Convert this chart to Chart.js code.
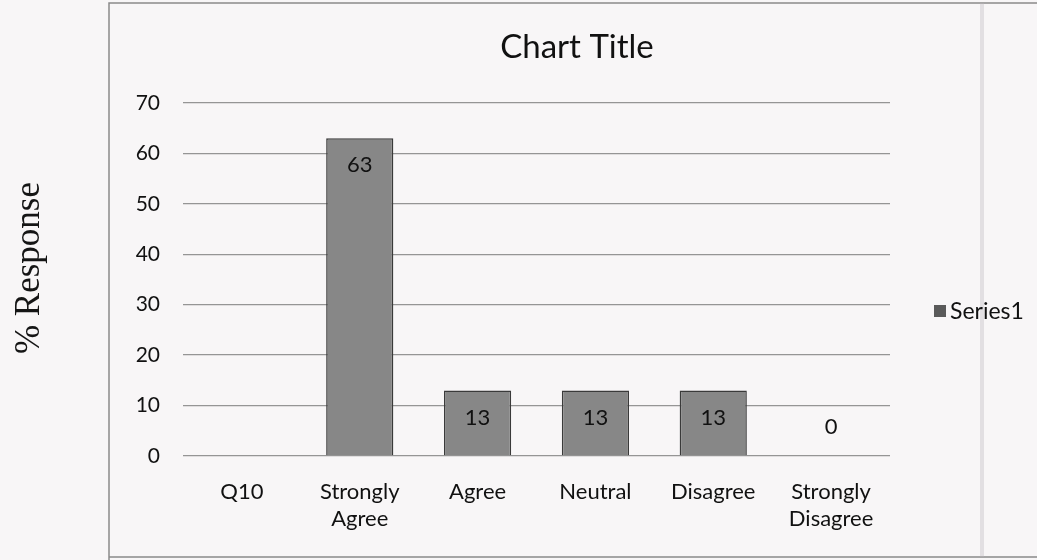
<!DOCTYPE html>
<html>
<head>
<meta charset="utf-8">
<script src="https://cdn.jsdelivr.net/npm/chart.js@4/dist/chart.umd.min.js"></script>
<style>
html,body{margin:0;padding:0;background:#f8f6f7;}
#wrap{width:1037px;height:560px;position:relative;}
</style>
</head>
<body>
<div id="wrap"><canvas id="c" width="1037" height="560"></canvas></div>
<script>
const categories = ["Q10", ["Strongly", "Agree"], "Agree", "Neutral", "Disagree", ["Strongly", "Disagree"]];
const series1 = [null, 63, 13, 13, 13, 0];
const seriesName = "Series1";
const chartTitle = "Chart Title";
const yAxisTitle = "% Response";
const yTicks = [0, 10, 20, 30, 40, 50, 60, 70];

const sansFont = "Lato, 'Open Sans', sans-serif";

const decor = {
  id: 'decor',
  beforeDraw(chart) {
    const ctx = chart.ctx;
    ctx.save();
    ctx.fillStyle = '#f8f6f7';
    ctx.fillRect(0, 0, chart.width, chart.height);
    // frame
    ctx.strokeStyle = '#8a8a8a';
    ctx.lineWidth = 1.5;
    ctx.beginPath();
    ctx.moveTo(109, 560);
    ctx.lineTo(109, 3);
    ctx.lineTo(1037, 3);
    ctx.stroke();
    ctx.beginPath();
    ctx.moveTo(109, 557);
    ctx.lineTo(1037, 557);
    ctx.stroke();
    // scan fold
    ctx.strokeStyle = 'rgba(185,180,185,0.35)';
    ctx.lineWidth = 4;
    ctx.beginPath();
    ctx.moveTo(982, 3);
    ctx.lineTo(982, 557);
    ctx.stroke();
    ctx.restore();
  },
  afterDraw(chart) {
    const ctx = chart.ctx;
    ctx.save();
    // title
    ctx.fillStyle = '#111';
    ctx.font = "33px " + sansFont;
    ctx.textAlign = 'center';
    ctx.textBaseline = 'middle';
    ctx.fillText(chartTitle, 577, 47);
    // y axis title
    ctx.save();
    ctx.translate(30, 268);
    ctx.rotate(-Math.PI / 2);
    ctx.font = "35px 'Liberation Serif', 'DejaVu Serif', serif";
    ctx.fillStyle = '#151515';
    ctx.fillText(yAxisTitle, 0, 0);
    ctx.restore();
    // legend
    ctx.fillStyle = '#5a5a5a';
    ctx.fillRect(934, 305, 12, 12);
    ctx.fillStyle = '#111';
    ctx.font = "23px " + sansFont;
    ctx.textAlign = 'left';
    ctx.fillText(seriesName, 950, 312);
    // data labels
    const meta = chart.getDatasetMeta(0);
    ctx.font = "22px " + sansFont;
    ctx.textAlign = 'center';
    meta.data.forEach((bar, i) => {
      const v = series1[i];
      if (v === null || v === undefined) return;
      const y = v > 0 ? bar.y + 27 : bar.y - 29;
      ctx.fillStyle = '#111';
      ctx.fillText(String(v), bar.x, y);
    });
    ctx.restore();
  }
};

new Chart(document.getElementById('c'), {
  type: 'bar',
  data: {
    labels: categories,
    datasets: [{
      label: seriesName,
      data: series1,
      backgroundColor: '#878787',
      borderColor: '#3a3a3a',
      borderWidth: 1.5,
      barPercentage: 0.57,
      categoryPercentage: 1.0
    }]
  },
  options: {
    responsive: false,
    animation: false,
    devicePixelRatio: 1,
    layout: { padding: { left: 0, right: 147, top: 103, bottom: 0 } },
    plugins: {
      legend: { display: false },
      title: { display: false },
      tooltip: { enabled: false }
    },
    scales: {
      x: {
        grid: { display: false, drawTicks: false },
        border: { display: false },
        ticks: {
          color: '#111',
          font: { family: sansFont, size: 22, lineHeight: 1.25 },
          padding: 22,
          maxRotation: 0,
          autoSkip: false
        },
        afterFit(scale) { scale.height = 104; }
      },
      y: {
        min: 0,
        max: 70,
        afterBuildTicks(scale) { scale.ticks = yTicks.map(v => ({ value: v })); },
        grid: { color: '#959595', lineWidth: 1.3, drawTicks: false },
        border: { display: false },
        ticks: {
          color: '#111',
          font: { family: sansFont, size: 21 },
          padding: 23
        },
        afterFit(scale) { scale.width = 183; }
      }
    }
  },
  plugins: [decor]
});
</script>
</body>
</html>
